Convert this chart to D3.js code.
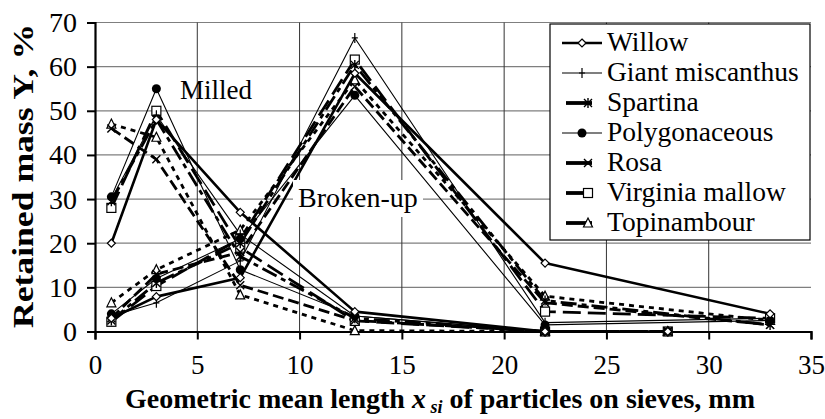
<!DOCTYPE html>
<html><head><meta charset="utf-8">
<script src="https://cdn.jsdelivr.net/npm/d3@7"></script>
</head><body style="margin:0;background:#fff"><svg id="c" width="825" height="419"></svg>
<script>
// ---- data ----
const speciesNames = ["Willow","Giant miscanthus","Spartina","Polygonaceous","Rosa","Virginia mallow","Topinambour"];
const xMilled = [0.8, 3, 7.1, 12.7, 22, 28];
const xBroken = [0.8, 3, 7.1, 12.7, 22, 33];
const willowMilled      = [20, 48, 27, 4.5, 0, 0];
const miscanthusMilled  = [30, 49, 22, 3.5, 0, 0];
const spartinaMilled    = [29.5, 48, 17, 3, 0, 0];
const polygonMilled     = [30.5, 55, 14, 3.5, 0, 0];
const rosaMilled        = [46, 39, 10.5, 2.5, 0, 0];
const mallowMilled      = [28, 50, 19, 2.4, 0, 0];
const topinMilled       = [47, 44, 8.3, 0.2, 0, 0];
const willowBroken      = [3, 7.9, 12.2, 58.5, 15.5, 4];
const miscanthusBroken  = [3.5, 6.5, 16, 66.5, 2, 3];
const spartinaBroken    = [2.5, 11, 20, 60.4, 7, 1.5];
const polygonBroken     = [4, 12, 21, 53.5, 1.5, 2.5];
const rosaBroken        = [3, 13, 18, 55.5, 6.5, 1.5];
const mallowBroken      = [2.2, 10.3, 21, 61.6, 4.5, 3];
const topinBroken       = [6.5, 14, 23, 57, 8, 2.5];
const xTicks = [0,5,10,15,20,25,30,35];
const yTicks = [0,10,20,30,40,50,60,70];

const milledSets = [willowMilled, miscanthusMilled, spartinaMilled, polygonMilled, rosaMilled, mallowMilled, topinMilled];
const brokenSets = [willowBroken, miscanthusBroken, spartinaBroken, polygonBroken, rosaBroken, mallowBroken, topinBroken];

const FONT = "Liberation Serif";

// ---- styles ----
const styles = [
  {w:2.6, dash:null, marker:"diamond"},
  {w:1.1, dash:null, marker:"plus"},
  {w:2.8, dash:"16,5,5,5", marker:"star"},
  {w:1.1, dash:null, marker:"dot"},
  {w:2.8, dash:"11,5", marker:"cross"},
  {w:2.8, dash:"18,7", marker:"square"},
  {w:2.8, dash:"5,5", marker:"triangle"}
];

const svg = d3.select("#c");
const x = d3.scaleLinear().domain([0,35]).range([95,811]);
const y = d3.scaleLinear().domain([0,70]).range([331.5,22.5]);

// gridlines
svg.append("g").selectAll("line").data(yTicks.filter(d=>d>0)).join("line")
  .attr("x1",x(0)).attr("x2",x(35)).attr("y1",d=>y(d)).attr("y2",d=>y(d))
  .attr("stroke","#7f7f7f").attr("stroke-width",1.2);
svg.append("g").selectAll("line").data(xTicks.filter(d=>d>0&&d<35)).join("line")
  .attr("x1",d=>x(d)).attr("x2",d=>x(d)).attr("y1",y(0)).attr("y2",y(70))
  .attr("stroke","#333").attr("stroke-width",1);

// axes
const yAxis = svg.append("g").attr("transform",`translate(${x(0)},0)`)
  .call(d3.axisLeft(y).tickValues(yTicks).tickSize(8).tickFormat(d3.format("d")));
yAxis.attr("font-family",FONT);
yAxis.select(".domain").attr("stroke","#000").attr("stroke-width",2.2);
yAxis.selectAll(".tick line").attr("stroke","#000").attr("stroke-width",2);
yAxis.selectAll(".tick text").attr("font-family",FONT).attr("font-size",28).attr("fill","#000").attr("x",-18);

const xAxis = svg.append("g").attr("transform",`translate(0,${y(0)})`)
  .call(d3.axisBottom(x).tickValues(xTicks).tickSize(8).tickFormat(d3.format("d")));
xAxis.attr("font-family",FONT);
xAxis.select(".domain").attr("stroke","#000").attr("stroke-width",2.2);
xAxis.selectAll(".tick line").attr("stroke","#000").attr("stroke-width",2);
xAxis.selectAll(".tick text").attr("font-family",FONT).attr("font-size",27).attr("fill","#000").attr("y",23);

// marker drawing
function marker(g, type, cx, cy){
  const s = g.append("g").attr("transform",`translate(${cx},${cy})`);
  if(type==="diamond") s.append("path").attr("d","M0,-4L4,0L0,4L-4,0Z").attr("fill","#fff").attr("stroke","#000").attr("stroke-width",1.2);
  else if(type==="plus"){ s.append("path").attr("d","M0,-5V5M-3,0H3").attr("stroke","#000").attr("stroke-width",1.2); }
  else if(type==="star"){ s.append("path").attr("d","M-4,-4L4,4M-4,4L4,-4M0,-5V5").attr("stroke","#000").attr("stroke-width",1.4); }
  else if(type==="dot") s.append("circle").attr("r",4.5).attr("fill","#000");
  else if(type==="cross"){ s.append("path").attr("d","M-4,-4L4,4M-4,4L4,-4").attr("stroke","#000").attr("stroke-width",1.4); }
  else if(type==="square") s.append("rect").attr("x",-4.5).attr("y",-4.5).attr("width",9).attr("height",9).attr("fill","#fff").attr("stroke","#000").attr("stroke-width",1.2);
  else if(type==="triangle") s.append("path").attr("d","M0,-5L4.5,4L-4.5,4Z").attr("fill","#fff").attr("stroke","#000").attr("stroke-width",1.2);
}

const line = d3.line().x(d=>x(d[0])).y(d=>y(d[1]));
const plot = svg.append("g");
const order = [6,5,4,3,2,1,0];
order.forEach(i=>{
  const st = styles[i];
  [[xMilled, milledSets[i]],[xBroken, brokenSets[i]]].forEach(([xs, ys])=>{
    const pts = xs.map((xv,k)=>[xv, ys[k]]);
    plot.append("path").attr("d",line(pts)).attr("fill","none").attr("stroke","#000")
      .attr("stroke-width",st.w).attr("stroke-dasharray",st.dash).attr("stroke-linejoin","round");
  });
});
order.forEach(i=>{
  const st = styles[i];
  [[xMilled, milledSets[i]],[xBroken, brokenSets[i]]].forEach(([xs, ys])=>{
    xs.forEach((xv,k)=>marker(plot, st.marker, x(xv), y(ys[k])));
  });
});

// annotations
svg.append("text").attr("x",180).attr("y",99).attr("font-family",FONT).attr("font-size",27).text("Milled");
const bu = svg.append("g");
bu.append("rect").attr("x",293).attr("y",180).attr("width",130).attr("height",37).attr("fill","#fff");
bu.append("text").attr("x",298).attr("y",207).attr("font-family",FONT).attr("font-size",28).text("Broken-up");

// legend
const lg = svg.append("g");
lg.append("rect").attr("x",550).attr("y",24).attr("width",260).attr("height",216).attr("fill","#fff").attr("stroke","#000").attr("stroke-width",1.2);
speciesNames.forEach((nm,i)=>{
  const cy = 43 + i*30;
  const st = styles[i];
  const x1 = st.dash ? 566 : 562, x2 = st.dash ? 592 : 602;
  lg.append("line").attr("x1",x1).attr("x2",x2).attr("y1",cy).attr("y2",cy)
    .attr("stroke","#000").attr("stroke-width",st.w+ (st.dash?1:0));
  marker(lg, st.marker, st.dash ? 588 : 582, cy);
  lg.append("text").attr("x",607).attr("y",cy+8).attr("font-family",FONT).attr("font-size",27.5).text(nm);
});

// axis titles
const xt = svg.append("text").attr("x",440).attr("y",408).attr("text-anchor","middle")
  .attr("font-family",FONT).attr("font-size",28).attr("font-weight","bold");
xt.append("tspan").text("Geometric mean length ");
xt.append("tspan").attr("font-style","italic").text("x");
xt.append("tspan").attr("font-style","italic").attr("font-size",18).attr("dy",5).text(" si");
xt.append("tspan").attr("dy",-5).text("  of particles on sieves, mm");

svg.append("text").attr("transform","translate(33,176) rotate(-90)").attr("text-anchor","middle")
  .attr("font-family",FONT).attr("font-size",30).attr("font-weight","bold")
  .attr("textLength",304).attr("lengthAdjust","spacingAndGlyphs").text("Retained mass Y, %");
</script></body></html>
